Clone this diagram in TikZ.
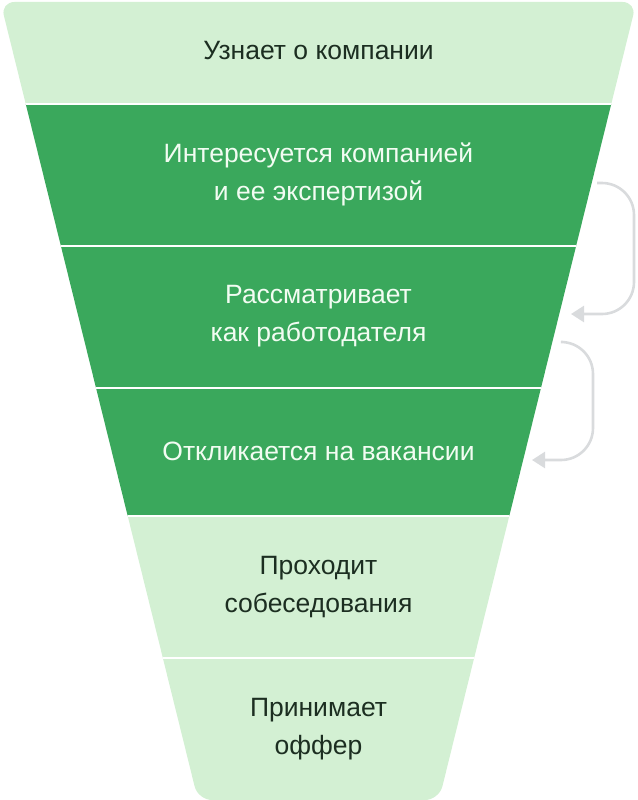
\documentclass[tikz,border=0pt]{standalone}
\usepackage{fontspec}
\setmainfont{Liberation Sans}
\usetikzlibrary{arrows.meta}
\definecolor{lightg}{HTML}{D3F0D3}
\definecolor{darkg}{HTML}{3AA85C}
\definecolor{txtdark}{HTML}{1C2E21}
\definecolor{txtlight}{HTML}{F2FCF2}
\definecolor{arrowg}{HTML}{D9DBDD}
\tikzset{
  lbl/.style={align=center, font=\fontsize{26.5}{38}\selectfont, inner sep=0pt},
  lbldark/.style={lbl, text=txtdark},
  lbllight/.style={lbl, text=txtlight},
  sep/.style={draw=white, line width=2pt},
  loop/.style={draw=arrowg, line width=2.6pt, rounded corners=32pt, -{Triangle[length=13pt,width=16pt]}}
}
\begin{document}
\begin{tikzpicture}[x=1pt,y=-1pt]
\useasboundingbox (0,0) rectangle (637,800);
\begin{scope}
\clip[rounded corners=14pt] (0.5,2) -- (636.5,2) -- (439,800) -- (198,800) -- cycle;
\fill[lightg] (0,0) rectangle (637,104);
\fill[darkg] (0,104) rectangle (637,516);
\fill[lightg] (0,516) rectangle (637,800);
\draw[sep] (0,104) -- (637,104);
\draw[sep] (0,246) -- (637,246);
\draw[sep] (0,388) -- (637,388);
\draw[sep] (0,516) -- (637,516);
\draw[sep] (0,658) -- (637,658);
\end{scope}
\node[lbldark] (s1) at (318.5,51) {Узнает о компании};
\node[lbllight] (s2) at (318.5,174) {Интересуется компанией\\и ее экспертизой};
\node[lbllight] (s3) at (318.5,316) {Рассматривает\\как работодателя};
\node[lbllight] (s4) at (318.5,451) {Откликается на вакансии};
\node[lbldark] (s5) at (318.5,587) {Проходит\\собеседования};
\node[lbldark] (s6) at (318.5,729) {Принимает\\оффер};
\coordinate (a1s) at (597,183);
\coordinate (a1e) at (571,314);
\coordinate (a2s) at (563,342);
\coordinate (a2e) at (532,460);
\draw[loop] (a1s) -- (634,183) -- (634,314) -- (a1e);
\draw[loop] (a2s) -- (593,342) -- (593,460) -- (a2e);
\end{tikzpicture}
\end{document}
